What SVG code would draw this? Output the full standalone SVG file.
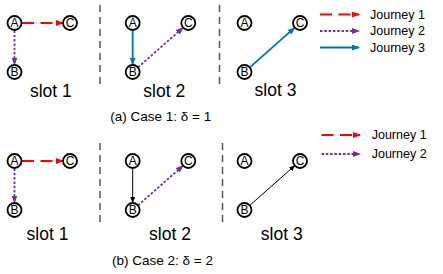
<svg xmlns="http://www.w3.org/2000/svg" width="443" height="274" viewBox="0 0 443 274">
<style>
.node circle{fill:#fff;stroke:#000;stroke-width:1.8}
.node text{font-family:"Liberation Sans",Arial,sans-serif;font-size:12px;text-anchor:middle;fill:#000}
.sep{stroke:#555;stroke-width:1.5;stroke-dasharray:7 5;fill:none}
.j1{stroke:#FF0000;stroke-width:1.8;stroke-dasharray:12 6.5;fill:none;marker-end:url(#mr)}
.j2{stroke:#7030A0;stroke-width:1.8;stroke-dasharray:2.5 1.8;fill:none;marker-end:url(#mp)}
.j3{stroke:#0070C0;stroke-width:1.8;fill:none;marker-end:url(#mb)}
.jk{stroke:#000;stroke-width:1;fill:none;marker-end:url(#mk)}
.lbl{font-family:"Liberation Sans",Arial,sans-serif;font-size:17.5px;text-anchor:middle;fill:#000}
.cap{font-family:"Liberation Sans",Arial,sans-serif;font-size:13.5px;text-anchor:middle;fill:#000}
.leg{font-family:"Liberation Sans",Arial,sans-serif;font-size:12.5px;fill:#000}
</style>
<defs>
<marker id="mr" markerUnits="userSpaceOnUse" markerWidth="8" markerHeight="6" refX="7" refY="3" orient="auto"><path d="M0,0 L8,3 L0,6 z" fill="#FF0000"/></marker>
<marker id="mp" markerUnits="userSpaceOnUse" markerWidth="8" markerHeight="6" refX="7" refY="3" orient="auto"><path d="M0,0 L8,3 L0,6 z" fill="#7030A0"/></marker>
<marker id="mb" markerUnits="userSpaceOnUse" markerWidth="8" markerHeight="6" refX="7" refY="3" orient="auto"><path d="M0,0 L8,3 L0,6 z" fill="#0070C0"/></marker>
<marker id="mk" markerUnits="userSpaceOnUse" markerWidth="6" markerHeight="5" refX="5.5" refY="2.5" orient="auto"><path d="M0,0 L6,2.5 L0,5 z" fill="#000"/></marker>
</defs>

<g id="separators">
<line class="sep" x1="100" y1="5" x2="100" y2="84"/>
<line class="sep" x1="219.5" y1="5" x2="219.5" y2="84"/>
<line class="sep" x1="100" y1="143" x2="100" y2="222"/>
<line class="sep" x1="222.5" y1="143" x2="222.5" y2="222"/>
</g>

<g id="connectors">
<line class="j1" x1="22" y1="23" x2="63" y2="23"/>
<line class="j2" x1="14.5" y1="30.5" x2="14.5" y2="64.5"/>
<line class="j3" x1="132.7" y1="30.5" x2="132.7" y2="64.5"/>
<line class="j2" x1="138" y1="67.4" x2="183" y2="27.7"/>
<line class="j3" x1="249.8" y1="67.4" x2="294.7" y2="27.7"/>
<line class="j1" x1="320" y1="14.5" x2="359" y2="14.5"/>
<line class="j2" x1="320" y1="31" x2="359" y2="31"/>
<line class="j3" x1="320" y1="47.5" x2="359" y2="47.5"/>
<line class="j1" x1="22" y1="161" x2="63" y2="161"/>
<line class="j2" x1="14.5" y1="168.5" x2="14.5" y2="202.5"/>
<line class="jk" x1="132.7" y1="168.5" x2="132.7" y2="202.5"/>
<line class="j2" x1="138" y1="205.4" x2="183" y2="165.7"/>
<line class="jk" x1="249.8" y1="205.4" x2="294.7" y2="165.7"/>
<line class="j1" x1="321.5" y1="135" x2="360" y2="135"/>
<line class="j2" x1="321.5" y1="154" x2="360" y2="154"/>
</g>

<g id="n1A" class="node"><circle cx="14.5" cy="23" r="7"/><text x="14.5" y="27.3">A</text></g>
<g id="n1C" class="node"><circle cx="70" cy="23" r="7"/><text x="70" y="27.3">C</text></g>
<g id="n1B" class="node"><circle cx="14.5" cy="72" r="7"/><text x="14.5" y="76.3">B</text></g>
<g id="n2A" class="node"><circle cx="132.7" cy="23" r="7"/><text x="132.7" y="27.3">A</text></g>
<g id="n2C" class="node"><circle cx="188.3" cy="23" r="7"/><text x="188.3" y="27.3">C</text></g>
<g id="n2B" class="node"><circle cx="132.7" cy="72" r="7"/><text x="132.7" y="76.3">B</text></g>
<g id="n3A" class="node"><circle cx="244.5" cy="23" r="7"/><text x="244.5" y="27.3">A</text></g>
<g id="n3C" class="node"><circle cx="300" cy="23" r="7"/><text x="300" y="27.3">C</text></g>
<g id="n3B" class="node"><circle cx="244.5" cy="72" r="7"/><text x="244.5" y="76.3">B</text></g>

<g id="m1A" class="node"><circle cx="14.5" cy="161" r="7"/><text x="14.5" y="165.3">A</text></g>
<g id="m1C" class="node"><circle cx="70" cy="161" r="7"/><text x="70" y="165.3">C</text></g>
<g id="m1B" class="node"><circle cx="14.5" cy="210" r="7"/><text x="14.5" y="214.3">B</text></g>
<g id="m2A" class="node"><circle cx="132.7" cy="161" r="7"/><text x="132.7" y="165.3">A</text></g>
<g id="m2C" class="node"><circle cx="188.3" cy="161" r="7"/><text x="188.3" y="165.3">C</text></g>
<g id="m2B" class="node"><circle cx="132.7" cy="210" r="7"/><text x="132.7" y="214.3">B</text></g>
<g id="m3A" class="node"><circle cx="244.5" cy="161" r="7"/><text x="244.5" y="165.3">A</text></g>
<g id="m3C" class="node"><circle cx="300" cy="161" r="7"/><text x="300" y="165.3">C</text></g>
<g id="m3B" class="node"><circle cx="244.5" cy="210" r="7"/><text x="244.5" y="214.3">B</text></g>

<g id="labels">
<text class="lbl" x="50.8" y="97">slot 1</text>
<text class="lbl" x="164.2" y="97">slot 2</text>
<text class="lbl" x="275.5" y="96">slot 3</text>
<text class="cap" x="160.8" y="120.5">(a) Case 1: δ = 1</text>
<text class="leg" x="370" y="18.8">Journey 1</text>
<text class="leg" x="370" y="35.3">Journey 2</text>
<text class="leg" x="370" y="51.8">Journey 3</text>
<text class="lbl" x="47.5" y="240">slot 1</text>
<text class="lbl" x="170" y="240">slot 2</text>
<text class="lbl" x="281.7" y="240">slot 3</text>
<text class="cap" x="162.5" y="265">(b) Case 2: δ = 2</text>
<text class="leg" x="371.7" y="139.3">Journey 1</text>
<text class="leg" x="371.7" y="158.3">Journey 2</text>
</g>
</svg>
